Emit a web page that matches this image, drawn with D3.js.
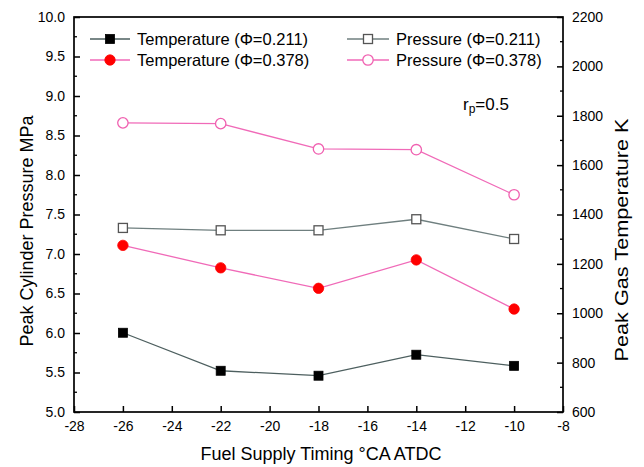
<!DOCTYPE html>
<html><head><meta charset="utf-8">
<script src="https://cdn.jsdelivr.net/npm/d3@7"></script>
<style>
body{margin:0;background:#fff;}
text{font-family:"Liberation Sans",Arial,sans-serif;fill:#000;}
</style></head>
<body><svg id="c" width="644" height="467"></svg>
<script>
const timing = [-26, -22, -18, -14, -10];
const tempLow = [921, 767, 747, 832, 787];        // Temperature (Φ=0.211), K
const tempHigh = [1275, 1184, 1101, 1216, 1017];  // Temperature (Φ=0.378), K
const presLow = [7.33, 7.30, 7.30, 7.44, 7.19];   // Pressure (Φ=0.211), MPa
const presHigh = [8.66, 8.65, 8.33, 8.32, 7.75];  // Pressure (Φ=0.378), MPa
const xTicks = [-28,-26,-24,-22,-20,-18,-16,-14,-12,-10,-8];
const leftTicks = [5.0,5.5,6.0,6.5,7.0,7.5,8.0,8.5,9.0,9.5,10.0];
const rightTicks = [600,800,1000,1200,1400,1600,1800,2000,2200];

const svg = d3.select("#c");
const L=74, R=563, T=17, B=412;
const x = d3.scaleLinear().domain([-28,-8]).range([L,R]);
const yL = d3.scaleLinear().domain([5,10]).range([B,T]);
const yR = d3.scaleLinear().domain([600,2200]).range([B,T]);
const FF = "Liberation Sans, Arial, sans-serif";

// frame
svg.append("rect").attr("x",L).attr("y",T).attr("width",R-L).attr("height",B-T)
  .attr("fill","none").attr("stroke","#000").attr("stroke-width",1.7);

// bottom axis
const gx = svg.append("g").attr("transform",`translate(0,${B})`)
  .call(d3.axisBottom(x).tickValues(xTicks).tickSize(-6).tickPadding(9).tickFormat(d=>String(d)));
gx.select(".domain").remove();
gx.selectAll("line").attr("stroke","#000").attr("stroke-width",1.5);
gx.selectAll("text").attr("font-size",14).style("font-family",FF);

// left axis
const gl = svg.append("g").attr("transform",`translate(${L},0)`)
  .call(d3.axisLeft(yL).tickValues(leftTicks).tickSize(-6).tickPadding(9).tickFormat(d3.format(".1f")));
gl.select(".domain").remove();
gl.selectAll("line").attr("stroke","#000").attr("stroke-width",1.5);
gl.selectAll("text").attr("font-size",14).style("font-family",FF);
const leftMinor = d3.range(5.25,10,0.5);
svg.append("g").selectAll("line").data(leftMinor).join("line")
  .attr("x1",L).attr("x2",L+3).attr("y1",d=>yL(d)).attr("y2",d=>yL(d)).attr("stroke","#000").attr("stroke-width",1.3);

// right axis
const gr = svg.append("g").attr("transform",`translate(${R},0)`)
  .call(d3.axisRight(yR).tickValues(rightTicks).tickSize(-6).tickPadding(9).tickFormat(d3.format("d")));
gr.select(".domain").remove();
gr.selectAll("line").attr("stroke","#000").attr("stroke-width",1.5);
gr.selectAll("text").attr("font-size",14).style("font-family",FF);
const rightMinor = d3.range(700,2200,200);
svg.append("g").selectAll("line").data(rightMinor).join("line")
  .attr("x1",R).attr("x2",R-3).attr("y1",d=>yR(d)).attr("y2",d=>yR(d)).attr("stroke","#000").attr("stroke-width",1.3);

// axis titles
svg.append("text").attr("transform",`translate(33,231) rotate(-90)`)
  .attr("text-anchor","middle").attr("font-size",18).text("Peak Cylinder Pressure MPa");
svg.append("text").attr("transform",`translate(628,240) rotate(-90)`)
  .attr("text-anchor","middle").attr("font-size",18).attr("textLength",243).attr("lengthAdjust","spacingAndGlyphs")
  .text("Peak Gas Temperature K");
svg.append("text").attr("x",321).attr("y",460).attr("text-anchor","middle")
  .attr("font-size",18).text("Fuel Supply Timing °CA ATDC");

// series
const series = [
  {name:"Temperature (Φ=0.211)", vals:tempLow, y:yR, line:"#4d5f5f", marker:"square", fill:"#000", stroke:"#000"},
  {name:"Temperature (Φ=0.378)", vals:tempHigh, y:yR, line:"#f06ab8", marker:"circle", fill:"#ff0000", stroke:"#ff0000"},
  {name:"Pressure (Φ=0.211)", vals:presLow, y:yL, line:"#6f7f7f", marker:"square", fill:"#fff", stroke:"#555"},
  {name:"Pressure (Φ=0.378)", vals:presHigh, y:yL, line:"#f06ab8", marker:"circle", fill:"#fff", stroke:"#f060b0"}
];

function drawMarker(g, s, cx, cy){
  if(s.marker==="square"){
    g.append("rect").attr("x",cx-4.5).attr("y",cy-4.5).attr("width",9).attr("height",9)
      .attr("fill",s.fill).attr("stroke",s.stroke).attr("stroke-width",s.fill==="#fff"?1.3:0.8);
  } else {
    g.append("circle").attr("cx",cx).attr("cy",cy).attr("r",5.2)
      .attr("fill",s.fill).attr("stroke",s.stroke).attr("stroke-width",s.fill==="#fff"?1.3:0.8);
  }
}

series.forEach(s=>{
  const line = d3.line().x((d,i)=>x(timing[i])).y(d=>s.y(d));
  svg.append("path").datum(s.vals).attr("d",line).attr("fill","none").attr("stroke",s.line).attr("stroke-width",1.3);
  const g = svg.append("g");
  s.vals.forEach((v,i)=>drawMarker(g,s,x(timing[i]),s.y(v)));
});

// legend
const legPos = [
  {s:series[0], x:90, y:39, w:40},
  {s:series[1], x:90, y:60, w:40},
  {s:series[2], x:347, y:39, w:42},
  {s:series[3], x:347, y:60, w:42}
];
legPos.forEach(p=>{
  const g = svg.append("g");
  g.append("line").attr("x1",p.x).attr("x2",p.x+p.w).attr("y1",p.y).attr("y2",p.y).attr("stroke",p.s.line).attr("stroke-width",1.3);
  drawMarker(g,p.s,p.x+p.w/2,p.y);
  g.append("text").attr("x",p.x+p.w+7).attr("y",p.y+6).attr("font-size",16.5).text(p.s.name);
});

// annotation
const ann = svg.append("text").attr("x",463).attr("y",110).attr("font-size",17);
ann.append("tspan").text("r");
ann.append("tspan").attr("font-size",12).attr("dy",3).text("p");
ann.append("tspan").attr("dy",-3).text("=0.5");
</script></body></html>
